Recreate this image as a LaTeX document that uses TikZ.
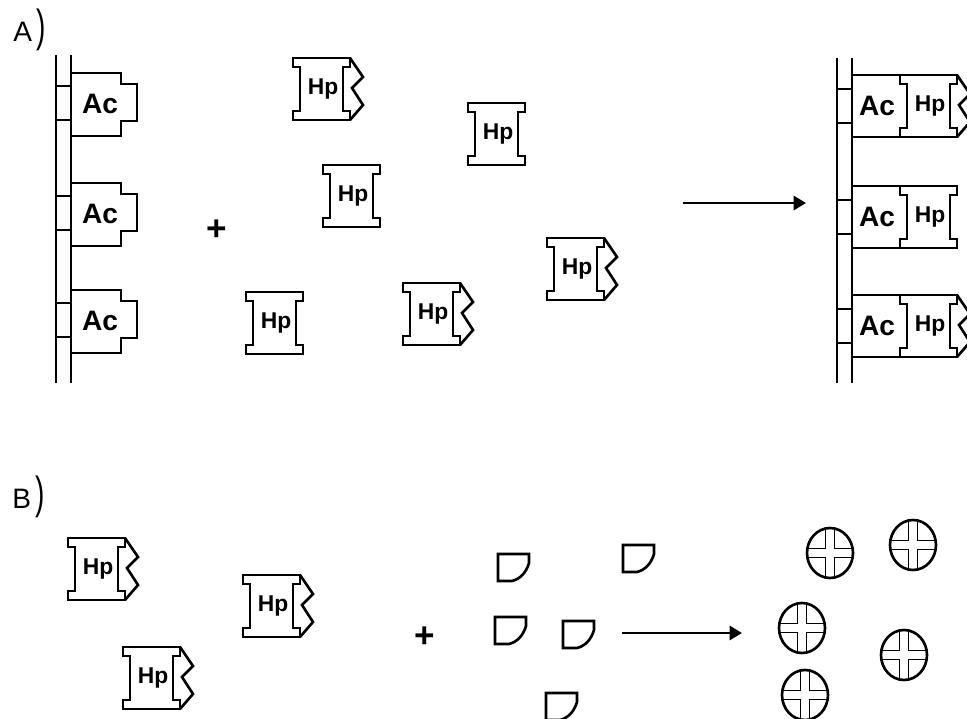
\documentclass[tikz,border=0pt]{standalone}
\usepackage{fontspec}
\setmainfont{Liberation Sans}
\usetikzlibrary{arrows.meta}

\begin{document}
\begin{tikzpicture}[x=0.02cm,y=-0.02cm,line width=1.5pt,
	ac_text/.style={font=\bfseries\fontsize{16}{16}\selectfont},
	hp_text/.style={font=\bfseries\fontsize{13}{13}\selectfont},
	tag_text/.style={font=\fontsize{16}{16}\selectfont,anchor=base west,inner sep=0pt},
	plus_text/.style={font=\bfseries\fontsize{20}{20}\selectfont},
	to_arrow/.style={-{Triangle[length=7pt,width=8pt]}},
	hp_block/.pic={
		\draw (0,0) -- (57,0) -- (57,9) -- (50,9) -- (50,53) -- (57,53) -- (57,62) -- (0,62) -- (0,53) -- (7,53) -- (7,9) -- (0,9) -- cycle;
		\node[hp_text] (-t) at (30,31) {Hp};
	},
	hp_notch/.pic={
		\draw (0,0) -- (57,0) -- (57,9) -- (50,9) -- (50,53) -- (57,53) -- (57,62) -- (0,62) -- (0,53) -- (7,53) -- (7,9) -- (0,9) -- cycle;
		\draw (57,0) -- (70,19) -- (59,30) -- (70,47) -- (57,62);
		\node[hp_text] (-t) at (30,31) {Hp};
	},
	ac_block/.pic={
		\draw (-15,13) -- (0,13) (-15,47) -- (0,47);
		\draw (0,0) -- (50,0) -- (50,11) -- (66,11) -- (66,48) -- (50,48) -- (50,63) -- (0,63);
		\node[ac_text] (-t) at (29,31) {Ac};
	},
	ac_bound/.pic={
		\draw (-15,14) -- (0,14) (-15,48) -- (0,48);
		\draw (0,0) -- (48,0) (0,62) -- (48,62);
		\node[ac_text] (-t) at (25,31) {Ac};
	},
	piece/.pic={
		\draw (0,0) -- (31,0) -- (31,9) .. controls (28,19) and (22,25) .. (14,27) -- (0,27) -- cycle;
	},
	ring/.pic={
		\draw (0,0) ellipse [x radius=23, y radius=25];
		\begin{scope}
			\clip (0,0) ellipse [x radius=23, y radius=25];
			\draw[line width=1pt] (-4.5,-30) -- (-4.5,-4.5) -- (-30,-4.5) (-30,4.5) -- (-4.5,4.5) -- (-4.5,30)
				(4.5,30) -- (4.5,4.5) -- (30,4.5) (30,-4.5) -- (4.5,-4.5) -- (4.5,-30);
		\end{scope}
	}]
	\clip (0,0) rectangle (967,719);

	\node[tag_text] (tag_a) at (12,42) {A\,\scalebox{1}[1.6]{)}};
	\node[tag_text] (tag_b) at (11,508) {B\,\scalebox{1}[1.6]{)}};

	\draw (56,55) -- (56,383) (71,55) -- (71,383);
	\pic (ac1) at (71,73) {ac_block};
	\pic (ac2) at (71,183) {ac_block};
	\pic (ac3) at (71,290) {ac_block};

	\node[plus_text] (plus_a) at (217,230) {+};

	\pic (hp1) at (293,58) {hp_notch};
	\pic (hp2) at (468,103) {hp_block};
	\pic (hp3) at (323,165) {hp_block};
	\pic (hp4) at (547,238) {hp_notch};
	\pic (hp5) at (246,292) {hp_block};
	\pic (hp6) at (403,283) {hp_notch};

	\coordinate (a_from) at (683,203);
	\coordinate (a_to) at (806,203);
	\draw[to_arrow] (a_from) -- (a_to);

	\draw (837,58) -- (837,383) (852,58) -- (852,383);
	\pic (pa1) at (852,75) {ac_bound};
	\pic (ph1) at (900,75) {hp_notch};
	\pic (pa2) at (852,186) {ac_bound};
	\pic (ph2) at (900,186) {hp_block};
	\pic (pa3) at (852,295) {ac_bound};
	\pic (ph3) at (900,295) {hp_notch};

	\pic (hb1) at (68,538) {hp_notch};
	\pic (hb2) at (243,575) {hp_notch};
	\pic (hb3) at (123,647) {hp_notch};

	\node[plus_text] (plus_b) at (425,637) {+};

	\pic (q1) at (498,554) {piece};
	\pic (q2) at (623,545) {piece};
	\pic (q3) at (495,617) {piece};
	\pic (q4) at (563,621) {piece};
	\pic (q5) at (546,693) {piece};

	\coordinate (b_from) at (622,633);
	\coordinate (b_to) at (742,633);
	\draw[to_arrow] (b_from) -- (b_to);

	\pic (r1) at (830,553) {ring};
	\pic (r2) at (913,545) {ring};
	\pic (r3) at (802,628) {ring};
	\pic (r4) at (904,655) {ring};
	\pic (r5) at (805,695) {ring};
\end{tikzpicture}
\end{document}
